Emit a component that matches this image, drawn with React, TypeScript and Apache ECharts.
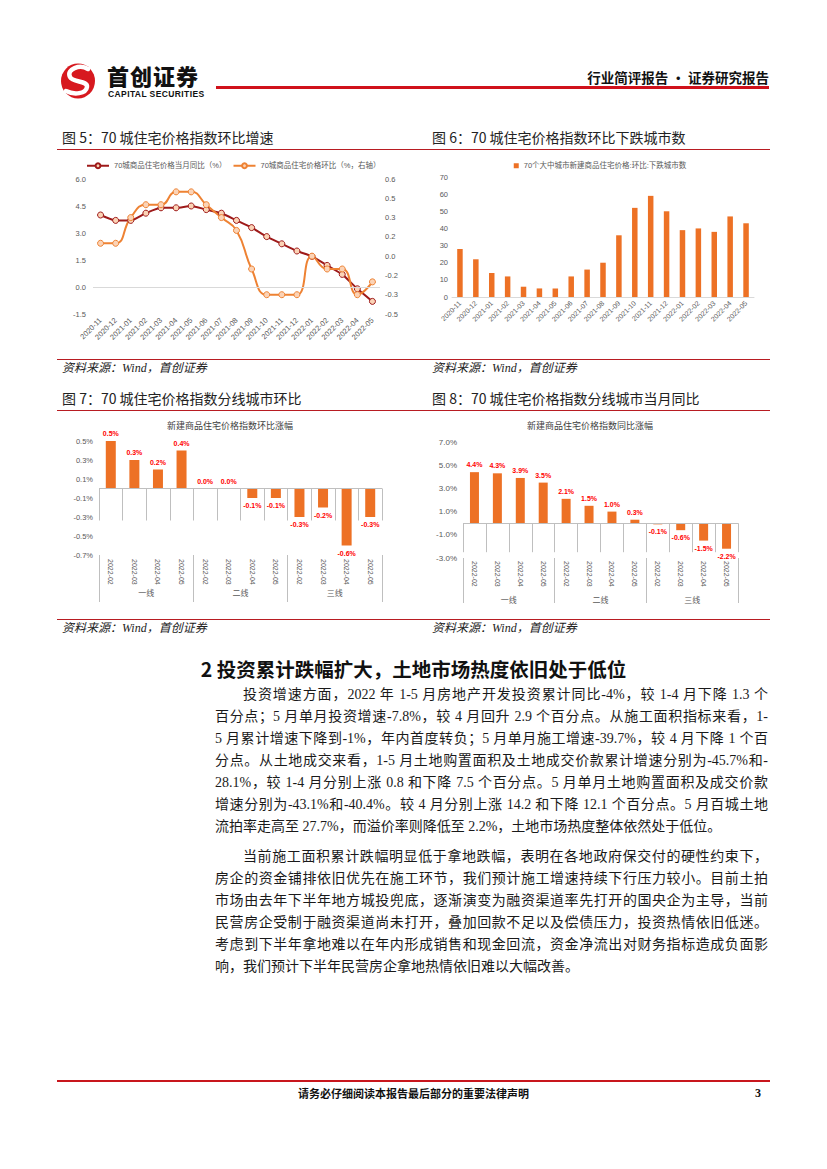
import React, { useEffect, useRef } from 'react';
import * as echarts from 'echarts';

// ---------- DATA ----------
const months = ['2020-11', '2020-12', '2021-01', '2021-02', '2021-03', '2021-04', '2021-05', '2021-06', '2021-07', '2021-08', '2021-09', '2021-10', '2021-11', '2021-12', '2022-01', '2022-02', '2022-03', '2022-04', '2022-05'];
const yoySeriesName = '70城商品住宅价格当月同比（%）';
const momSeriesName = '70城商品住宅价格环比（%，右轴）';
const yoyValues = [4.0, 3.7, 3.7, 4.1, 4.4, 4.4, 4.5, 4.3, 4.1, 3.7, 3.3, 2.8, 2.4, 2.0, 1.7, 1.2, 0.7, -0.1, -0.8];
const momValues = [0.1, 0.1, 0.3, 0.4, 0.4, 0.5, 0.5, 0.4, 0.3, 0.2, -0.1, -0.3, -0.3, -0.3, 0.0, -0.1, -0.1, -0.3, -0.2];

const fallingName = '70个大中城市新建商品住宅价格:环比:下跌城市数';
const fallingCities = [28, 22, 14, 12, 6, 5, 5, 12, 16, 20, 36, 52, 59, 50, 39, 40, 38, 47, 43];

const tierMonths = ['2022-02', '2022-03', '2022-04', '2022-05'];
const tiers = ['一线', '二线', '三线'];
const tierMoMTitle = '新建商品住宅价格指数环比涨幅';
const tierMoM = [0.5, 0.3, 0.2, 0.4, 0.0, 0.0, -0.1, -0.1, -0.3, -0.2, -0.6, -0.3];
const tierYoYTitle = '新建商品住宅价格指数同比涨幅';
const tierYoY = [4.4, 4.3, 3.9, 3.5, 2.1, 1.5, 1.0, 0.3, -0.1, -0.6, -1.5, -2.2];

const para1 = [
  '投资增速方面，2022 年 1-5 月房地产开发投资累计同比-4%，较 1-4 月下降 1.3 个',
  '百分点；5 月单月投资增速-7.8%，较 4 月回升 2.9 个百分点。从施工面积指标来看，1-',
  '5 月累计增速下降到-1%，年内首度转负；5 月单月施工增速-39.7%，较 4 月下降 1 个百',
  '分点。从土地成交来看，1-5 月土地购置面积及土地成交价款累计增速分别为-45.7%和-',
  '28.1%，较 1-4 月分别上涨 0.8 和下降 7.5 个百分点。5 月单月土地购置面积及成交价款',
  '增速分别为-43.1%和-40.4%。较 4 月分别上涨 14.2 和下降 12.1 个百分点。5 月百城土地',
  '流拍率走高至 27.7%，而溢价率则降低至 2.2%，土地市场热度整体依然处于低位。',
];
const para2 = [
  '当前施工面积累计跌幅明显低于拿地跌幅，表明在各地政府保交付的硬性约束下，',
  '房企的资金铺排依旧优先在施工环节，我们预计施工增速持续下行压力较小。目前土拍',
  '市场由去年下半年地方城投兜底，逐渐演变为融资渠道率先打开的国央企为主导，当前',
  '民营房企受制于融资渠道尚未打开，叠加回款不足以及偿债压力，投资热情依旧低迷。',
  '考虑到下半年拿地难以在年内形成销售和现金回流，资金净流出对财务指标造成负面影',
  '响，我们预计下半年民营房企拿地热情依旧难以大幅改善。',
];

// ---------- STYLE ----------
const FONT = '"Liberation Sans", "Noto Sans CJK SC", sans-serif';
const ORANGE = '#ED7125';
const DARKRED = '#9E1A1A';
const LINE_ORANGE = '#EE8233';
const RULE = '#B81C22';
const AX = '#595959';

function fmt1(v: number) {
  const r = Math.round(Math.abs(v) * 10 + 1e-6) / 10;
  if (r === 0) return '0.0';
  return (v < 0 ? '-' : '') + r.toFixed(1);
}

function EChart({ option, style }: { option: any; style: React.CSSProperties }) {
  const ref = useRef<HTMLDivElement>(null);
  useEffect(() => {
    const c = echarts.init(ref.current!, null, { renderer: 'svg' });
    c.setOption(option);
    return () => c.dispose();
  }, []);
  return <div ref={ref} style={{ position: 'absolute', ...style }} />;
}

const hiddenAxis = { axisLine: { show: false }, axisTick: { show: false }, splitLine: { show: false } };

const chart5 = {
  animation: false,
  textStyle: { fontFamily: FONT },
  legend: {
    top: 7, left: 26, itemWidth: 22, itemHeight: 6, itemGap: 6,
    textStyle: { fontSize: 7.5, color: AX, fontFamily: FONT },
    data: [yoySeriesName, momSeriesName],
  },
  grid: { left: 38, right: 25, top: 29, bottom: 36 },
  xAxis: {
    type: 'category', data: months, boundaryGap: true,
    axisLine: { show: false }, axisTick: { show: false },
    axisLabel: { rotate: 45, fontSize: 7.5, color: AX, interval: 0, margin: 5 },
  },
  yAxis: [
    { type: 'value', min: -1.5, max: 6, interval: 1.5, ...hiddenAxis, axisLabel: { formatter: (v: number) => fmt1(v), fontSize: 7.5, color: AX, margin: 7 } },
    { type: 'value', position: 'right', min: -0.45, max: 0.6, interval: 0.15, ...hiddenAxis, axisLabel: { formatter: (v: number) => fmt1(v), fontSize: 7.5, color: AX, margin: 5 } },
  ],
  series: [
    {
      name: yoySeriesName, type: 'line', data: yoyValues, yAxisIndex: 0, smooth: 0.2,
      symbol: 'circle', symbolSize: 6, color: DARKRED,
      lineStyle: { color: DARKRED, width: 2 },
      itemStyle: { color: '#FBD3B6', borderColor: DARKRED, borderWidth: 1 },
      markLine: { silent: true, symbol: 'none', label: { show: false }, lineStyle: { color: '#D9D9D9', type: 'solid', width: 1 }, data: [{ yAxis: 0 }] },
    },
    {
      name: momSeriesName, type: 'line', data: momValues, yAxisIndex: 1, smooth: 0.5,
      symbol: 'circle', symbolSize: 6, color: LINE_ORANGE,
      lineStyle: { color: LINE_ORANGE, width: 2 },
      itemStyle: { color: '#FBD3B6', borderColor: LINE_ORANGE, borderWidth: 1 },
    },
  ],
};

const chart6 = {
  animation: false,
  textStyle: { fontFamily: FONT },
  legend: {
    top: 7, left: 'center', icon: 'rect', itemWidth: 5, itemHeight: 5,
    textStyle: { fontSize: 7.5, color: AX, fontFamily: FONT },
    data: [fallingName],
  },
  grid: { left: 27, right: 21, top: 27, bottom: 53 },
  xAxis: {
    type: 'category', data: months,
    axisLine: { lineStyle: { color: '#D9D9D9' } }, axisTick: { show: false },
    axisLabel: { rotate: 45, fontSize: 7, color: AX, interval: 0, margin: 5 },
  },
  yAxis: { type: 'value', min: 0, max: 70, interval: 10, ...hiddenAxis, axisLabel: { fontSize: 7.5, color: AX, margin: 4 } },
  series: [{ name: fallingName, type: 'bar', data: fallingCities, barWidth: 5.5, itemStyle: { color: ORANGE } }],
};

function tierChart(title: string, values: number[], cfg: any) {
  const cats = tiers.flatMap((t) => tierMonths.map((m) => t + '|' + m));
  return {
    animation: false,
    textStyle: { fontFamily: FONT },
    title: { text: title, left: 'center', top: 6, textStyle: { fontSize: 9, fontWeight: 'normal', color: '#404040', fontFamily: FONT } },
    grid: cfg.grid,
    xAxis: [
      {
        type: 'category', data: cats, position: 'bottom',
        axisLine: { show: false },
        axisTick: { show: true, interval: 0, length: cfg.monthTick, lineStyle: { color: '#BFBFBF' } },
        axisLabel: { interval: 0, rotate: -90, fontSize: 7, color: AX, margin: cfg.monthMargin, formatter: (v: string) => v.split('|')[1] },
      },
      {
        type: 'category', data: tiers, position: 'bottom',
        axisLine: { show: false },
        axisTick: { show: true, interval: 0, length: cfg.groupTick, lineStyle: { color: '#BFBFBF' } },
        axisLabel: { interval: 0, fontSize: 8, color: AX, margin: cfg.groupMargin },
      },
    ],
    yAxis: {
      type: 'value', min: cfg.min, max: cfg.max, interval: cfg.interval, ...hiddenAxis,
      axisLabel: { fontSize: cfg.yFont, color: AX, margin: 6, formatter: (v: number) => fmt1(v) + '%' },
    },
    series: [
      {
        type: 'bar', xAxisIndex: 0, barWidth: cfg.barWidth,
        itemStyle: { color: ORANGE },
        data: values.map((v) => ({ value: v, label: { position: v < 0 ? 'bottom' : 'top' } })),
        label: { show: true, fontSize: 7, fontWeight: 'bold', color: '#FF0000', distance: 4, formatter: (p: any) => fmt1(p.value) + '%' },
        markLine: { silent: true, symbol: 'none', label: { show: false }, lineStyle: { color: '#BFBFBF', type: 'solid', width: 1 }, data: [{ yAxis: 0 }] },
      },
    ],
  };
}

const chart7 = tierChart(tierMoMTitle, tierMoM, {
  grid: { left: 44, right: 23, top: 31, bottom: 55 },
  min: -0.7, max: 0.5, interval: 0.2, yFont: 7.5, barWidth: 10,
  monthTick: 32, monthMargin: 4, groupTick: 47, groupMargin: 34,
});
const chart8 = tierChart(tierYoYTitle, tierYoY, {
  grid: { left: 48, right: 27, top: 32, bottom: 52 },
  min: -3, max: 7, interval: 2, yFont: 8, barWidth: 9,
  monthTick: 29, monthMargin: 3, groupTick: 45, groupMargin: 38,
});

// ---------- PAGE PIECES ----------
const abs = (s: React.CSSProperties): React.CSSProperties => ({ position: 'absolute', ...s });

function Rule({ top, left = 57, width = 713, height = 1, color = RULE }: any) {
  return <div style={abs({ top, left, width, height, background: color })} />;
}

function FigTitle({ left, cy, text }: any) {
  return (
    <div style={abs({ left, top: cy - 10, height: 20, lineHeight: '20px', fontSize: 14, color: '#222', fontFamily: '"Noto Sans CJK SC", sans-serif', whiteSpace: 'nowrap' })}>
      {text}
    </div>
  );
}

function Source({ left, cy }: any) {
  return (
    <div style={abs({ left, top: cy - 8, height: 16, lineHeight: '16px', fontSize: 12, fontStyle: 'italic', color: '#222', fontFamily: '"Liberation Serif", "Noto Sans CJK SC", serif', whiteSpace: 'nowrap' })}>
      资料来源：Wind，首创证券
    </div>
  );
}

function Para({ lines, top }: { lines: string[]; top: number }) {
  return (
    <>
      {lines.map((l, i) => {
        const first = i === 0;
        const last = i === lines.length - 1;
        return (
          <div
            key={i}
            style={abs({
              left: first ? 243 : 215, width: first ? 525 : 553, top: top + i * 22 - 11, height: 22, lineHeight: '22px',
              fontSize: 14, color: '#1a1a1a', whiteSpace: 'nowrap', overflow: 'visible',
              textAlign: 'justify', textAlignLast: last ? 'left' : 'justify',
              fontFamily: '"Liberation Serif", "Noto Sans CJK SC", serif',
            } as any)}
          >
            {l}
          </div>
        );
      })}
    </>
  );
}

function Logo() {
  return (
    <svg style={abs({ left: 58, top: 60 })} width={42} height={42} viewBox="0 0 42 42">
      <ellipse cx="20" cy="21" rx="17" ry="17.5" fill="#D7191F" />
      <path d="M 30 9 C 22 4, 8 9, 12 17 C 15 23, 30 20, 29 27 C 28 34, 16 35, 8 31" fill="none" stroke="#fff" strokeWidth="4.5" strokeLinecap="round" />
    </svg>
  );
}

export default function App() {
  return (
    <div style={abs({ left: 0, top: 0, width: 827, height: 1169, background: '#fff', overflow: 'hidden', fontFamily: '"Noto Sans CJK SC", sans-serif' })}>
      {/* header */}
      <Logo />
      <div style={abs({ left: 107, top: 64, height: 22, lineHeight: '22px', fontSize: 22, fontWeight: 900, color: '#111', letterSpacing: 1, whiteSpace: 'nowrap' })}>首创证券</div>
      <div style={abs({ left: 108, top: 89, height: 10, lineHeight: '10px', fontSize: 8.5, fontWeight: 700, color: '#111', letterSpacing: 0.4, fontFamily: '"Liberation Sans", sans-serif', whiteSpace: 'nowrap' })}>CAPITAL SECURITIES</div>
      <Rule top={86} left={216} width={553} height={3} color="#D0111B" />
      <div style={abs({ right: 827 - 769, top: 68, height: 18, lineHeight: '18px', fontSize: 13.5, fontWeight: 700, color: '#111', whiteSpace: 'nowrap' })}>行业简评报告 · 证券研究报告</div>

      {/* figure 5 & 6 */}
      <FigTitle left={62} cy={137} text="图 5：70 城住宅价格指数环比增速" />
      <FigTitle left={432} cy={137} text="图 6：70 城住宅价格指数环比下跌城市数" />
      <Rule top={149} />
      <EChart option={chart5} style={{ left: 55, top: 150, width: 350, height: 200 }} />
      <EChart option={chart6} style={{ left: 425, top: 150, width: 350, height: 200 }} />
      <Rule top={359} />
      <Source left={62} cy={368} />
      <Source left={432} cy={368} />

      {/* figure 7 & 8 */}
      <FigTitle left={62} cy={398} text="图 7：70 城住宅价格指数分线城市环比" />
      <FigTitle left={432} cy={398} text="图 8：70 城住宅价格指数分线城市当月同比" />
      <Rule top={410} />
      <EChart option={chart7} style={{ left: 55, top: 410, width: 350, height: 200 }} />
      <EChart option={chart8} style={{ left: 415, top: 410, width: 350, height: 200 }} />
      <Rule top={619} />
      <Source left={62} cy={628} />
      <Source left={432} cy={628} />

      {/* section */}
      <div style={abs({ left: 57, width: 713, top: 655, height: 28, lineHeight: '28px', textAlign: 'center', fontSize: 19.5, fontWeight: 700, color: '#111', whiteSpace: 'nowrap' })}>
        2 投资累计跌幅扩大，土地市场热度依旧处于低位
      </div>
      <Para lines={para1} top={695} />
      <Para lines={para2} top={857} />

      {/* footer */}
      <Rule top={1080} height={2} color="#C8161D" />
      <div style={abs({ left: 57, width: 713, top: 1085, height: 16, lineHeight: '16px', textAlign: 'center', fontSize: 11, fontWeight: 700, color: '#111' })}>请务必仔细阅读本报告最后部分的重要法律声明</div>
      <div style={abs({ left: 755, top: 1085, height: 16, lineHeight: '16px', fontSize: 12, fontWeight: 700, color: '#111', fontFamily: '"Liberation Serif", serif' })}>3</div>
    </div>
  );
}
